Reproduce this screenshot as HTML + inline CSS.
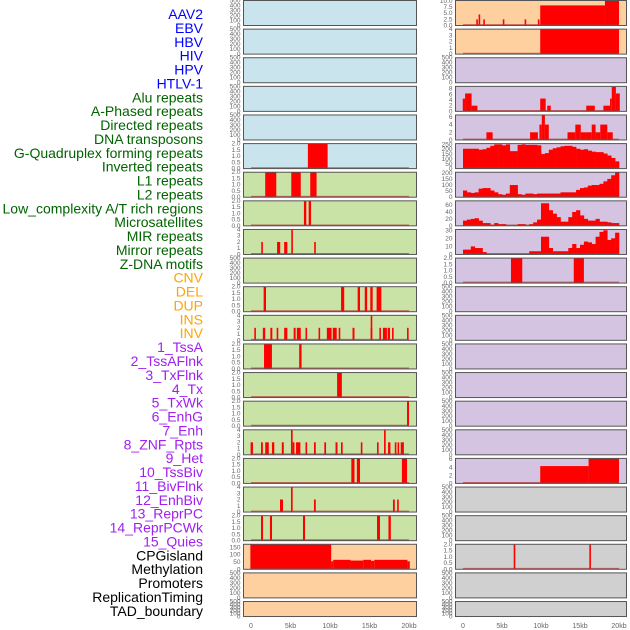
<!DOCTYPE html>
<html><head><meta charset="utf-8"><style>
html,body{margin:0;padding:0;background:#fff;width:630px;height:630px;overflow:hidden}
svg{display:block}
</style></head><body>
<svg id="chart" width="630" height="630" xmlns="http://www.w3.org/2000/svg"></svg>
<script>
const labels = ["AAV2","EBV","HBV","HIV","HPV","HTLV-1","Alu repeats","A-Phased repeats","Directed repeats","DNA transposons","G-Quadruplex forming repeats","Inverted repeats","L1 repeats","L2 repeats","Low_complexity A/T rich regions","Microsatellites","MIR repeats","Mirror repeats","Z-DNA motifs","CNV","DEL","DUP","INS","INV","1_TssA","2_TssAFlnk","3_TxFlnk","4_Tx","5_TxWk","6_EnhG","7_Enh","8_ZNF_Rpts","9_Het","10_TssBiv","11_BivFlnk","12_EnhBiv","13_ReprPC","14_ReprPCWk","15_Quies","CPGisland","Methylation","Promoters","ReplicationTiming","TAD_boundary"];
const labelGroups = [6,13,5,15,5];
const groupColors = ["#0000ff","#006400","#ffa500","#a020f0","#000000"];

const xTicks = [0,5,10,15,20];
const xTickLabels = ["0","5kb","10kb","15kb","20kb"];

const T500 = ["0","100","200","300","400","500"], V500=[0,100,200,300,400,500];
const T2 = ["0.0","0.5","1.0","1.5","2.0"], V2=[0,0.5,1,1.5,2];
const T4 = ["0","1","2","3","4"], V4=[0,1,2,3,4];

const leftBg = ["#c9e4ec","#c9e4ec","#c9e4ec","#c9e4ec","#c9e4ec","#c9e4ec","#c9e2a6","#c9e2a6","#c9e2a6","#c9e2a6","#c9e2a6","#c9e2a6","#c9e2a6","#c9e2a6","#c9e2a6","#c9e2a6","#c9e2a6","#c9e2a6","#c9e2a6","#fecf9f","#fecf9f","#fecf9f"];
const leftYmax = [500,500,500,500,500,2,2,2,4,500,2,4,2,2,2,4,2,4,2,172,500,500];
const leftTickVals = [V500,V500,V500,V500,V500,V2,V2,V2,V4,V500,V2,V4,V2,V2,V2,V4,V2,V4,V2,[0,50,100,150],V500,V500];
const leftTickLabels = [T500,T500,T500,T500,T500,T2,T2,T2,T4,T500,T2,T4,T2,T2,T2,T4,T2,T4,T2,["0","50","100","150"],T500,T500];
const leftBars = [
 [],[],[],[],[],
 [[7.2,9.7,2]],
 [[1.8,3.2,2],[5.1,6.3,2],[7.5,8.3,2]],
 [[6.7,7.0,2],[7.3,7.6,2]],
 [[1.3,1.5,2],[3.3,3.7,2],[4.2,4.6,2],[5.1,5.3,4],[8.0,8.2,2]],
 [],
 [[1.6,1.9,2],[11.4,11.8,2],[13.5,13.8,2],[14.4,14.7,2],[15.1,15.4,2],[15.9,16.5,2]],
 [[0.42,0.6,2],[1.5,1.8,2],[2.45,2.7,2],[3.25,3.45,2],[4.2,4.6,2],[5.4,5.65,2],[5.8,6.3,2],[6.9,7.1,2],[8.55,8.75,2],[9.6,10.2,2],[10.35,10.85,2],[11.1,11.3,2],[12.85,13.1,2],[15.15,15.35,4],[15.15,15.35,2],[16.25,16.45,2],[16.7,17.2,2],[17.3,17.6,2],[17.85,18.05,2],[19.75,19.95,2]],
 [[1.65,2.65,2],[6.1,6.4,2]],
 [[10.9,11.5,2]],
 [[19.75,20.0,2]],
 [[-0.05,0.25,2],[1.27,1.5,2],[1.8,2.25,2],[2.65,2.95,2],[3.9,4.15,2],[5.06,5.27,4],[5.27,5.5,2],[5.7,6.25,2],[6.9,7.1,2],[7.97,8.2,2],[9.28,9.5,2],[10.7,10.95,2],[11.39,11.6,2],[13.9,14.1,2],[15.95,16.15,2],[16.84,17.05,4],[17.35,17.65,2],[18.2,18.4,2],[18.55,18.75,2],[18.95,19.35,2]],
 [[12.7,13.1,2],[13.4,13.8,2],[19.1,19.75,2]],
 [[3.67,4.05,2],[5.06,5.27,4],[7.97,8.2,2],[17.97,18.2,2],[18.5,18.7,2]],
 [[1.27,1.52,2],[2.4,2.66,2],[6.58,6.84,2],[15.95,16.33,2],[17.4,17.7,2]],
 [[-0.08,10.15,172],[10.15,10.4,55],[10.4,12.6,65],[12.6,14.2,60],[14.2,15.2,65],[15.2,15.6,58],[15.6,19.8,65],[19.8,20.1,55]],
 [],[]
];

const rightBg = ["#fecf9f","#fecf9f","#d5c4e1","#d5c4e1","#d5c4e1","#d5c4e1","#d5c4e1","#d5c4e1","#d5c4e1","#d5c4e1","#d5c4e1","#d5c4e1","#d5c4e1","#d5c4e1","#d5c4e1","#d5c4e1","#d5c4e1","#d0d0d0","#d0d0d0","#d0d0d0","#d0d0d0","#d0d0d0"];
const rightYmax = [10.2,4,500,8.8,6.5,258,205,72,31,2,500,500,500,500,500,500,6.2,500,500,2,500,500];
const rightTickVals = [[0,2.5,5,7.5,10],V4,V500,[0,2,4,6,8],[0,2,4,6],[0,50,100,150,200,250],[0,50,100,150,200],[0,20,40,60],[0,10,20,30],V2,V500,V500,V500,V500,V500,V500,[0,2,4,6],V500,V500,V2,V500,V500];
const rightTickLabels = [["0.0","2.5","5.0","7.5","10.0"],T4,T500,["0","2","4","6","8"],["0","2","4","6"],["0","50","100","150","200","250"],["0","50","100","150","200"],["0","20","40","60"],["0","10","20","30"],T2,T500,T500,T500,T500,T500,T500,["0","2","4","6"],T500,T500,T2,T500,T500];
const rightBars = [
 [[1.7,1.9,2.5],[2.0,2.2,4.5],[2.6,2.8,2.5],[5.1,5.3,2.5],[7.9,8.1,2.5],[9.6,9.8,2.5],[9.9,18.2,8.2],[18.2,20.0,10.2]],
 [[9.9,20.0,4]],
 [],
 [[-0.03,0.27,4.5],[0.27,1.1,6.3],[1.1,1.85,2],[9.9,10.6,4.5],[10.8,11.25,2],[15.8,16.9,2],[18.0,18.85,2],[18.85,19.07,4.5],[19.07,19.6,8.6],[19.6,20.1,6.3]],
 [[3.0,3.8,2],[8.6,9.6,2],[9.8,10.1,4],[10.1,10.5,6.5],[10.5,11.0,4],[13.4,14.4,2],[14.4,15.1,4],[15.1,15.7,2],[15.7,16.5,2],[16.5,17.0,4],[17.0,17.6,2],[17.6,18.5,4],[18.5,19.2,2]],
 [],[],[],[],
 [[6.15,7.6,2],[14.2,15.5,2]],
 [],[],[],[],[],[],
 [[9.9,16.1,4.3],[16.1,20.0,6.2]],
 [],[],
 [[6.5,6.7,2],[16.2,16.4,2]],
 [],[]
];
// binned profiles (0.5 kb bins, 0-20 kb)
const g4Profile = [205,205,205,205,195,200,215,235,250,250,240,250,180,180,245,250,245,245,245,240,150,160,195,210,220,230,235,235,225,205,195,200,185,175,170,170,155,135,110,75];
const invertedProfile = [55,40,35,40,70,75,75,55,40,25,20,30,100,100,25,20,30,30,25,30,30,30,30,30,30,40,40,40,40,60,75,80,95,100,100,110,130,150,180,205];
const lowComplexityProfile = [15,18,20,22,15,8,8,3,8,5,5,0,0,0,5,5,0,5,10,18,65,65,45,35,25,12,12,25,40,45,30,20,15,15,20,12,12,10,8,8];
const microsatProfile = [6,6,10,8,8,3,0,0,0,0,0,0,0,0,0,0,0,4,4,4,22,22,8,4,4,4,4,8,13,8,12,16,15,13,22,28,30,18,20,27];
const rightProfiles = {5:g4Profile,6:invertedProfile,7:lowComplexityProfile,8:microsatProfile};

const NS="http://www.w3.org/2000/svg";
const svg=document.getElementById('chart');
function mk(tag,attrs,parent){const e=document.createElementNS(NS,tag);for(const k in attrs)e.setAttribute(k,attrs[k]);(parent||svg).appendChild(e);return e;}

// row labels
let li=0;
labelGroups.forEach((n,g)=>{for(let k=0;k<n;k++){const t=mk('text',{x:203,y:14+li*13.88+5,'text-anchor':'end','font-family':'Liberation Sans, sans-serif','font-size':'14',fill:groupColors[g]});


t.textContent=labels[li];li++;}});

const cols=[{x0:243.5,x1:416.5,k0:251,k1:409,bg:leftBg,ymax:leftYmax,tv:leftTickVals,tl:leftTickLabels,bars:leftBars,prof:{},side:'left'},
            {x0:455.5,x1:626.5,k0:463,k1:619,bg:rightBg,ymax:rightYmax,tv:rightTickVals,tl:rightTickLabels,bars:rightBars,prof:rightProfiles,side:'right'}];
cols.forEach(c=>{
 const xs=kb=>c.k0+(c.k1-c.k0)*kb/20;
 for(let i=0;i<22;i++){
  const top=0.5+i*28.62, h=(i==21?15:25), bot=top+h;
  const ym=c.ymax[i];
  const ys=v=>bot-h*Math.min(v,ym)/ym;
  const g=mk('g',{});
  
  
  mk('rect',{x:c.x0,y:top,width:c.x1-c.x0,height:h,fill:c.bg[i]},g);
  const hasData=c.bars[i].length||c.prof[i];
  if(c.prof[i]){
   c.prof[i].forEach((v,j)=>{const r=mk('rect',{x:xs(j*0.5),y:ys(v),width:xs(0.5)-xs(0)+0.3,height:bot-ys(v),fill:'#ff0000'},g);
    
    });
  }
  c.bars[i].forEach(b=>{const x=xs(b[0]),w=Math.max(1.6,xs(b[1])-x);
   const r=mk('rect',{x:x,y:ys(b[2]),width:w,height:bot-ys(b[2]),fill:'#ff0000'},g);
   
   });
  if(hasData){mk('line',{x1:xs(0),x2:xs(20),y1:bot-0.8,y2:bot-0.8,stroke:'#b03030','stroke-width':1.2,'stroke-opacity':0.7},g);}
  mk('rect',{x:c.x0,y:top,width:c.x1-c.x0,height:h,fill:'none',stroke:'#555','stroke-width':1},g);
  c.tv[i].forEach((v,j)=>{const t=mk('text',{x:c.x0-3,y:ys(v)+2,'text-anchor':'end','font-family':'Liberation Sans, sans-serif','font-size':'6.5',fill:'#666'},g);
   
   
   t.textContent=c.tl[i][j];});
 }
 xTicks.forEach((v,j)=>{const t=mk('text',{x:xs(v),y:628,'text-anchor':'middle','font-family':'Liberation Sans, sans-serif','font-size':'7',fill:'#666'});
  
  
  t.textContent=xTickLabels[j];});
});
</script>
</body></html>
